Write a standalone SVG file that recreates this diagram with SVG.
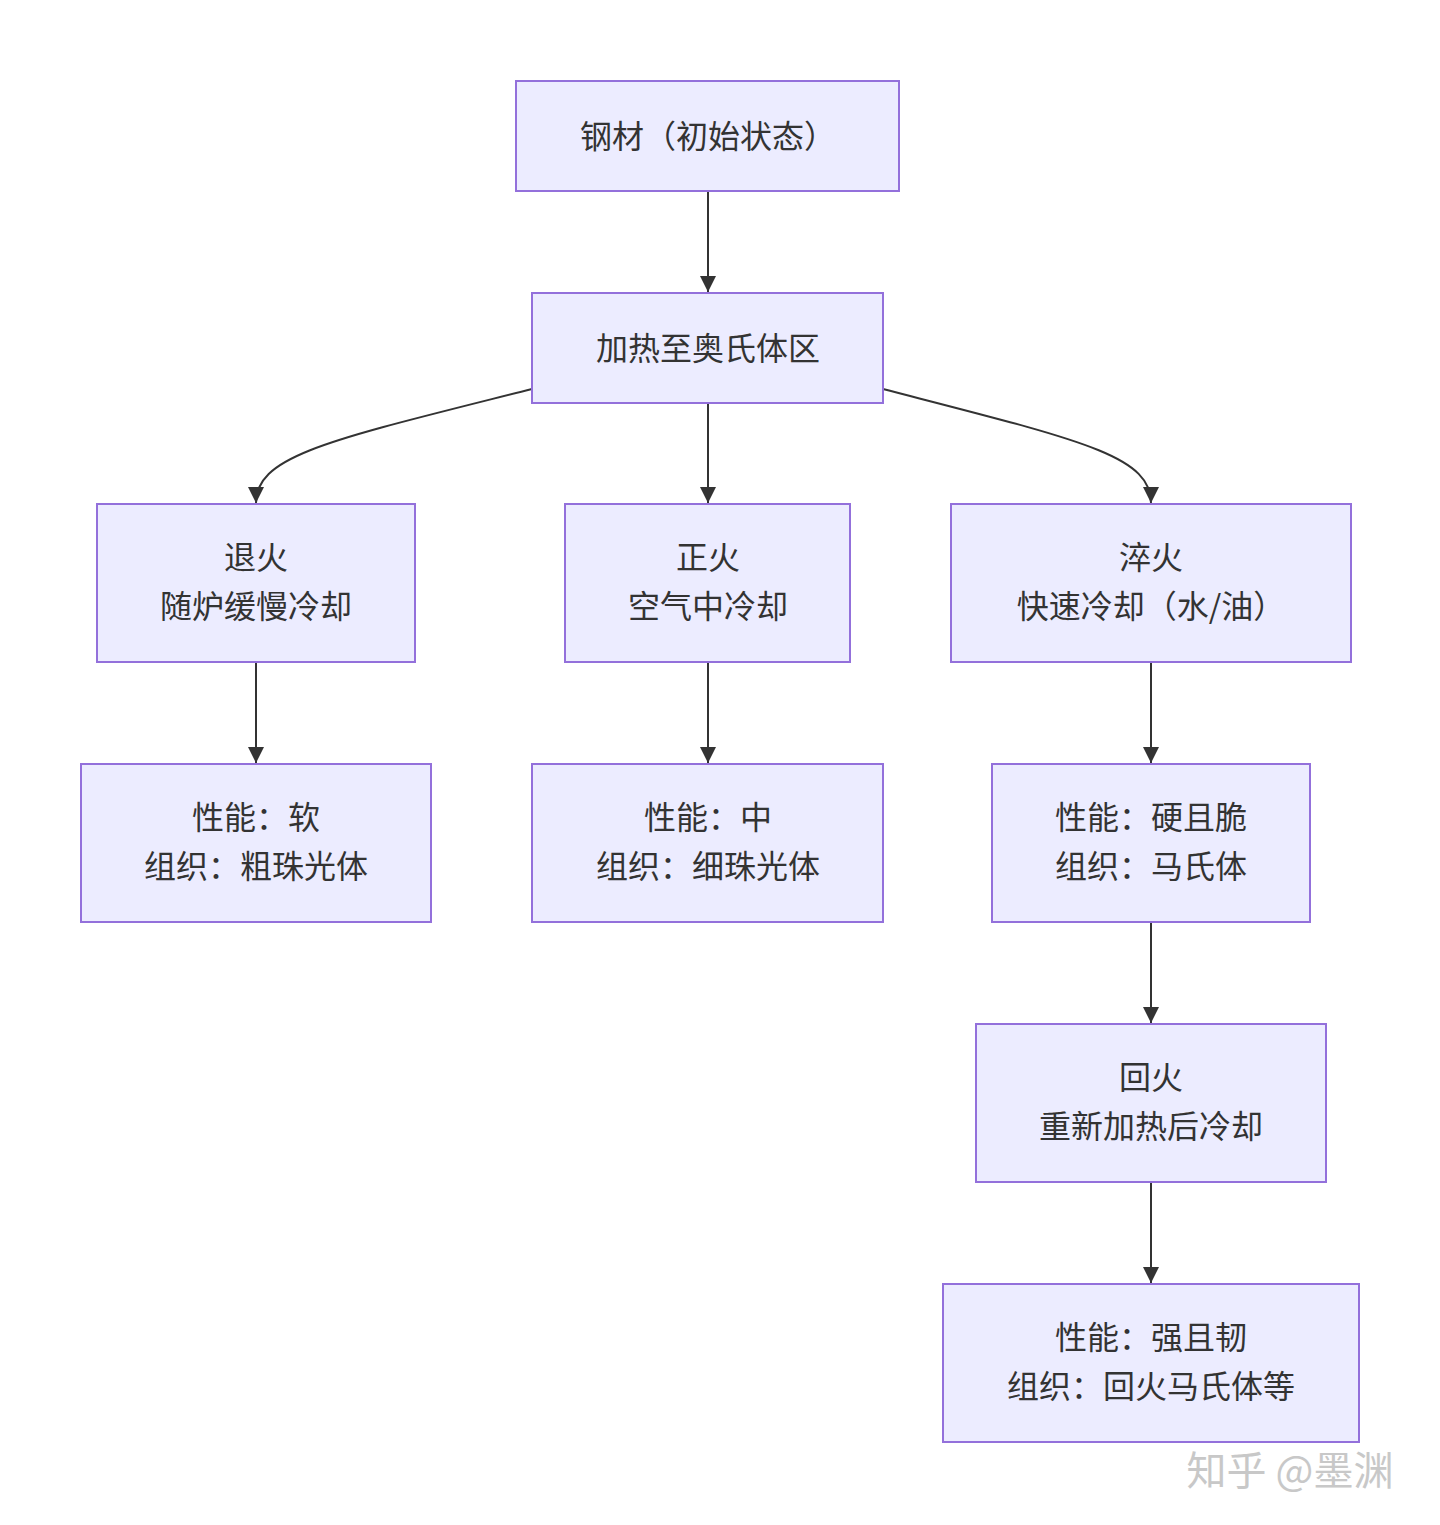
<svg xmlns="http://www.w3.org/2000/svg" width="1440" height="1525" viewBox="0 0 1440 1525">
<style>
.n rect{fill:#ECECFF;stroke:#9370DB;stroke-width:2}
.n text{font-family:"Noto Sans CJK SC","Noto Sans",sans-serif;font-size:32px;fill:#333;text-anchor:middle;dominant-baseline:central}
.e path{fill:none;stroke:#333;stroke-width:2;marker-end:url(#a)}
</style>
<defs><marker id="a" viewBox="0 0 10 10" refX="10" refY="5" markerWidth="16" markerHeight="16" markerUnits="userSpaceOnUse" orient="auto"><path d="M0,0L10,5L0,10z" fill="#333"/></marker></defs>
<rect width="1440" height="1525" fill="#fff"/>
<g class="e">
<path d="M708,191V292"/>
<path d="M708,403V503"/>
<path d="M532,389C330,440 256,455 256,503"/>
<path d="M883,389C1080,440 1151,455 1151,503"/>
<path d="M256,662V763"/>
<path d="M708,662V763"/>
<path d="M1151,662V763"/>
<path d="M1151,922V1023"/>
<path d="M1151,1182V1283"/>
</g>
<g class="n" id="n1"><rect x="516" y="81" width="383" height="110"/><text x="708" y="134">钢材（初始状态）</text></g>
<g class="n" id="n2"><rect x="532" y="293" width="351" height="110"/><text x="708" y="346">加热至奥氏体区</text></g>
<g class="n" id="n3"><rect x="97" y="504" width="318" height="158"/><text x="256" y="555">退火</text><text x="256" y="604">随炉缓慢冷却</text></g>
<g class="n" id="n4"><rect x="565" y="504" width="285" height="158"/><text x="708" y="555">正火</text><text x="708" y="604">空气中冷却</text></g>
<g class="n" id="n5"><rect x="951" y="504" width="400" height="158"/><text x="1151" y="555">淬火</text><text x="1151" y="604">快速冷却（水/油）</text></g>
<g class="n" id="n6"><rect x="81" y="764" width="350" height="158"/><text x="256" y="815">性能：软</text><text x="256" y="864">组织：粗珠光体</text></g>
<g class="n" id="n7"><rect x="532" y="764" width="351" height="158"/><text x="708" y="815">性能：中</text><text x="708" y="864">组织：细珠光体</text></g>
<g class="n" id="n8"><rect x="992" y="764" width="318" height="158"/><text x="1151" y="815">性能：硬且脆</text><text x="1151" y="864">组织：马氏体</text></g>
<g class="n" id="n9"><rect x="976" y="1024" width="350" height="158"/><text x="1151" y="1075">回火</text><text x="1151" y="1124">重新加热后冷却</text></g>
<g class="n" id="n10"><rect x="943" y="1284" width="416" height="158"/><text x="1151" y="1335">性能：强且韧</text><text x="1151" y="1384">组织：回火马氏体等</text></g>
<text x="1290" y="1468" font-family="Noto Sans CJK SC,sans-serif" font-size="40" fill="#c8c8c8" text-anchor="middle" dominant-baseline="central">知乎 @墨渊</text>
</svg>
